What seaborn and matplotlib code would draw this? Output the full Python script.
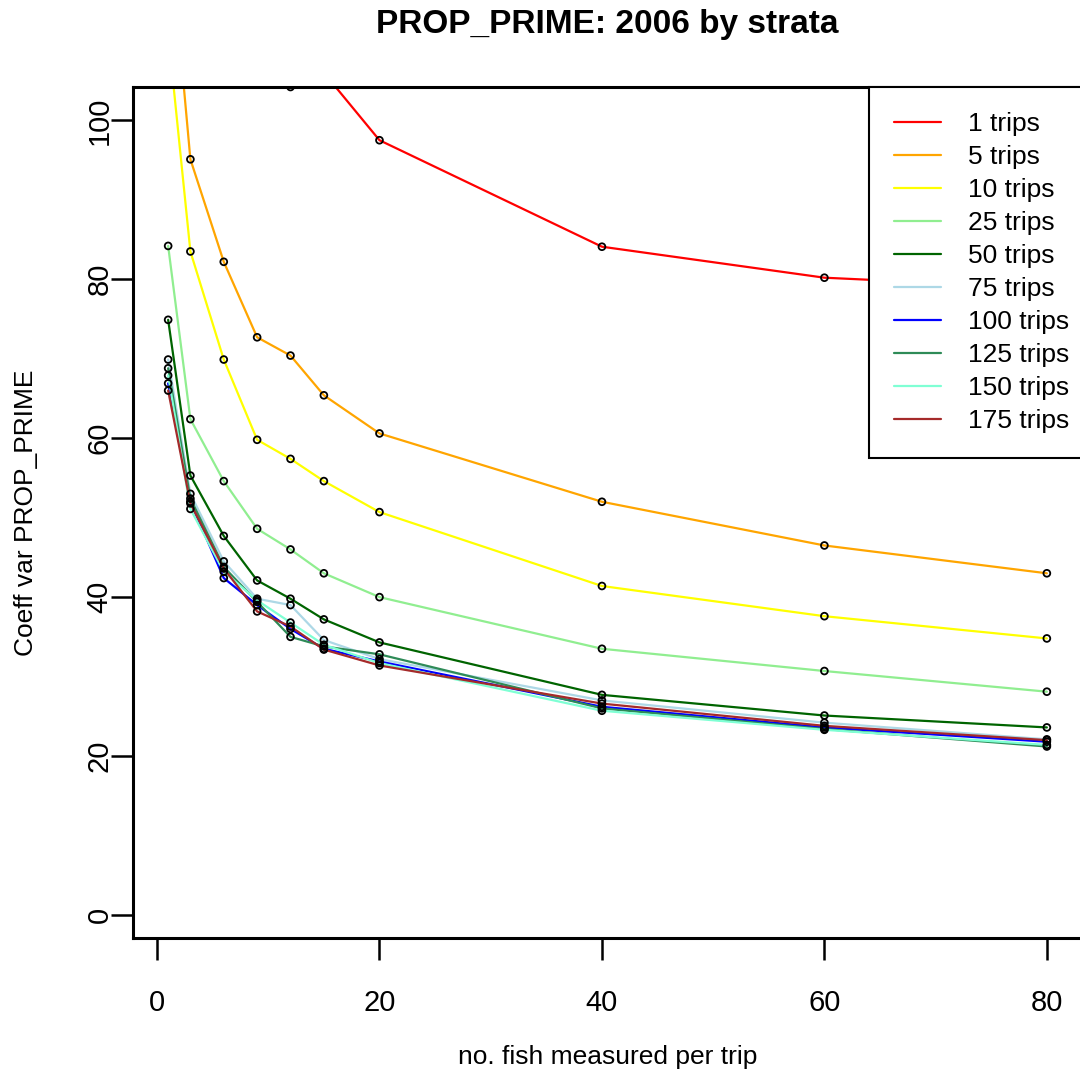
import numpy as np
import pandas as pd
import matplotlib
matplotlib.use("Agg")
import matplotlib.pyplot as plt
import seaborn as sns
from matplotlib.lines import Line2D

fish = [1, 3, 6, 9, 12, 15, 20, 40, 60, 80]
strata = ["1 trips", "5 trips", "10 trips", "25 trips", "50 trips",
          "75 trips", "100 trips", "125 trips", "150 trips", "175 trips"]
colors = ["red", "orange", "yellow", "lightgreen", "darkgreen",
          "lightblue", "blue", "seagreen", "aquamarine", "brown"]

cv_1 = [230.0, 160.0, 130.0, 115.0, 104.2, 106.0, 97.5, 84.1, 80.2, 78.9]
cv_5 = [126.0, 95.1, 82.2, 72.7, 70.4, 65.4, 60.6, 52.0, 46.5, 43.0]
cv_10 = [111.0, 83.5, 69.9, 59.8, 57.4, 54.6, 50.7, 41.4, 37.6, 34.8]
cv_25 = [84.2, 62.4, 54.6, 48.6, 46.0, 43.0, 40.0, 33.5, 30.7, 28.1]
cv_50 = [74.9, 55.3, 47.7, 42.1, 39.8, 37.2, 34.3, 27.7, 25.1, 23.6]
cv_75 = [69.9, 53.0, 44.5, 39.8, 39.0, 34.6, 32.2, 27.0, 24.2, 22.1]
cv_100 = [66.9, 52.0, 42.4, 39.0, 36.0, 33.5, 31.9, 26.2, 23.6, 21.8]
cv_125 = [68.8, 52.4, 43.8, 39.4, 35.0, 33.8, 32.8, 26.0, 23.4, 21.2]
cv_150 = [67.9, 51.1, 43.2, 39.6, 36.8, 34.0, 31.7, 25.7, 23.3, 21.4]
cv_175 = [66.0, 51.8, 43.6, 38.2, 36.3, 33.4, 31.4, 26.6, 23.8, 22.0]

series = [cv_1, cv_5, cv_10, cv_25, cv_50, cv_75, cv_100, cv_125, cv_150, cv_175]

rows = []
for name, vals in zip(strata, series):
    for x, v in zip(fish, vals):
        rows.append({"fish": x, "cv": v, "strata": name})
df = pd.DataFrame(rows)

sns.set_style("white")
plt.rcParams["font.family"] = ["Liberation Sans", "DejaVu Sans"]
plt.rcParams["text.color"] = "black"
plt.rcParams["axes.labelcolor"] = "black"
plt.rcParams["xtick.color"] = "black"
plt.rcParams["ytick.color"] = "black"

fig = plt.figure(figsize=(10.8, 10.77), dpi=100)
ax = fig.add_axes([133 / 1080, 1 - 938 / 1077, (1082 - 133) / 1080, (938 - 87) / 1077])

for name, vals, col in zip(strata, series, colors):
    sub = df[df["strata"] == name]
    sns.lineplot(data=sub, x="fish", y="cv", color=col, lw=1.6, ax=ax,
                 legend=False, zorder=2)
    sns.scatterplot(data=sub, x="fish", y="cv", marker="o", s=24,
                    facecolor="none", edgecolor="black", linewidth=1.3,
                    ax=ax, legend=False, zorder=3)

ax.set_xlim(-2.16, 83.16)
ax.set_ylim(-2.9, 104.2)
ax.set_xticks([0, 20, 40, 60, 80])
ax.set_yticks([0, 20, 40, 60, 80, 100])
for sp in ax.spines.values():
    sp.set_linewidth(2.2)
    sp.set_color("black")
ax.tick_params(axis="both", which="major", length=16, width=1.8,
               labelsize=21, direction="out", color="black",
               labelcolor="black", bottom=True, left=True)
ax.tick_params(axis="x", pad=21)
ax.tick_params(axis="y", pad=-2)
for lab in ax.get_yticklabels():
    lab.set_rotation(90)
    lab.set_va("center")

ax.set_xlabel("no. fish measured per trip", fontsize=19, labelpad=20,
              color="black")
ax.set_ylabel("Coeff var PROP_PRIME", fontsize=19, labelpad=34,
              color="black")
fig.text(607 / 1080, 1 - 25 / 1077, "PROP_PRIME: 2006 by strata",
         ha="center", va="center", fontsize=24, fontweight="bold",
         color="black")

handles = [Line2D([0], [0], color=c, lw=1.6) for c in colors]
leg = ax.legend(handles, strata, loc="upper right",
                bbox_to_anchor=(1 + 12 / 949, 1), borderaxespad=0,
                fontsize=19, frameon=True, fancybox=False, framealpha=1,
                edgecolor="black", handlelength=1.8, handletextpad=1.0,
                borderpad=0.95, labelspacing=0.34)
leg.get_frame().set_linewidth(1.5)
for t in leg.get_texts():
    t.set_color("black")

fig.savefig("out.png", dpi=100)
